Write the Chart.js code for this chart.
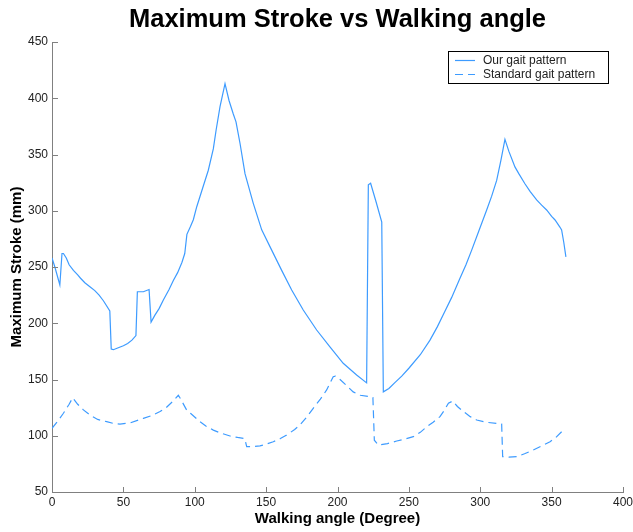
<!DOCTYPE html>
<html lang="en">
<head>
  <meta charset="UTF-8">
  <title>Maximum Stroke vs Walking angle</title>
  <style>
    body { margin: 0; background: #fff; }
    #wrap { width: 633px; height: 532px; }
  </style>
</head>
<body>
  <div id="wrap"><canvas id="grafico" width="633" height="532"></canvas></div>
  <script src="https://cdn.jsdelivr.net/npm/chart.js"></script>
  <script>
    // data
    const ourAngle = [0, 2, 5.5, 7, 8, 10, 12, 15, 18, 20, 23, 27, 30, 33, 36, 40.5, 41.5, 43, 46, 50, 53, 56, 58.8,
      59.8, 64, 68, 69.4, 72, 75, 78, 82, 85, 88, 91, 93, 94.5, 97, 99, 101.4, 105, 109.5, 113, 115, 117.7,
      121.2, 124, 127, 128.9, 131.7, 135.2, 141, 146.9, 153.9, 160.9, 167.9, 176, 185.4, 194.7, 204, 213.4, 220.4,
      221.6, 223.2, 227, 231, 232.1, 236, 240, 245, 250, 258, 264.8, 270, 275, 280, 285.8, 290, 294, 299, 304.5,
      308, 311.5, 314.5, 317.3, 320, 324.3, 327, 331.3, 335, 339.5, 343, 346.5, 350, 352.4, 355.9, 357, 358.5, 360];
    const ourStroke = [258, 250, 234, 262, 262, 258, 252, 247, 243, 240, 236, 232, 229, 225, 220, 211, 177, 176.5, 178, 180, 182, 185, 189,
      228, 228, 230, 201, 207, 213, 220.7, 230, 238, 245, 254, 262, 279, 286, 292, 303.6, 318, 336, 355, 372, 392.5,
      413, 398, 386, 379, 360, 333, 306.6, 283, 265, 247, 229.6, 211.8, 194, 179, 164.4, 154, 147,
      323, 324.4, 308, 290, 139, 142, 147, 153, 160, 172, 185, 197, 210, 223, 240, 252, 265, 282, 300.7,
      313, 327, 345, 363.5, 353, 339, 333, 324, 317, 309.6, 305, 300.7, 295, 291.8, 285.3, 283, 272, 259];

    const stdAngle = [0, 4, 8, 12, 14.5, 18, 22, 26.6, 32, 38.3, 43, 47.6, 55, 64, 70, 75.7, 80, 85, 88.5, 90, 94.3, 97,
      103.7, 108, 113, 118, 124.7, 130, 135, 136.4, 140, 145.7, 150, 155, 160, 164.4, 170, 173.7, 178, 183, 188,
      192.4, 197, 198.5, 201.8, 206, 211, 216, 222.8, 224.8, 225.8, 228.6, 235, 241.5, 247, 253.1, 258, 262.5, 267,
      271.8, 275, 277.7, 280.7, 284, 288.1, 293, 297.5, 304, 311.5, 315, 315.7, 320, 325.5, 331, 337, 343, 348.9,
      353, 357, 360];
    const stdStroke = [106.6, 113, 120, 128, 133.8, 128, 123, 118.4, 114.5, 112.5, 111, 110.4, 111.5, 115.5, 118, 121.6, 125, 131, 136, 133, 122.9, 120,
      112.5, 108.5, 105, 102.5, 99.8, 98.5, 97.5, 90.3, 90.3, 91, 92.5, 94.7, 97.5, 100.7, 105.5, 109.6, 116, 124.4, 132.5,
      140.7, 152.5, 153, 150, 145, 139, 136, 134.7, 134, 96, 91.8, 93, 95.3, 97, 99.2, 103, 108, 112,
      117, 123, 129, 130.8, 126, 121.6, 117, 114, 112, 111, 110.4, 81.4, 81, 81.4, 84, 87.3, 91, 94.7,
      98.5, 103.6, 104];

    const seriesNames = ['Our gait pattern', 'Standard gait pattern'];
    const titulo = 'Maximum Stroke vs Walking angle';
    const xTicks = [0, 50, 100, 150, 200, 250, 300, 350, 400];
    const yTicks = [50, 100, 150, 200, 250, 300, 350, 400, 450];

    const fonte = "'Liberation Sans', Arial, Helvetica, sans-serif";
    const azul = '#3d9bff';
    const cinza = '#808080';

    function pontos(xs, ys) { return xs.map((x, i) => ({ x: x, y: ys[i] })); }

    // titulo centrado sobre a area do grafico (como no matlab)
    const tituloCentrado = {
      id: 'tituloCentrado',
      afterDraw(chart) {
        const { ctx, chartArea } = chart;
        ctx.save();
        ctx.font = 'bold 25.5px ' + fonte;
        ctx.fillStyle = '#000';
        ctx.textAlign = 'center';
        ctx.textBaseline = 'alphabetic';
        ctx.fillText(titulo, (chartArea.left + chartArea.right) / 2, 27);
        ctx.restore();
      }
    };

    // tiques para dentro, estilo matlab
    const tiques = {
      id: 'tiques',
      afterDraw(chart) {
        const { ctx, chartArea, scales } = chart;
        ctx.save();
        ctx.strokeStyle = cinza;
        ctx.lineWidth = 1;
        ctx.beginPath();
        xTicks.forEach(v => {
          const px = Math.round(scales.x.getPixelForValue(v)) + 0.5;
          ctx.moveTo(px, chartArea.bottom);
          ctx.lineTo(px, chartArea.bottom - 5);
        });
        yTicks.forEach(v => {
          const py = Math.round(scales.y.getPixelForValue(v)) + 0.5;
          ctx.moveTo(chartArea.left, py);
          ctx.lineTo(chartArea.left + 6, py);
        });
        ctx.stroke();
        ctx.restore();
      }
    };

    // legenda com caixa dentro do grafico
    const legendaCaixa = {
      id: 'legendaCaixa',
      afterDraw(chart) {
        const { ctx, chartArea } = chart;
        const w = 160, h = 32;
        const x0 = chartArea.right - 15 - w, y0 = chartArea.top + 9;
        ctx.save();
        ctx.fillStyle = '#fff';
        ctx.fillRect(x0, y0, w, h);
        ctx.strokeStyle = '#000';
        ctx.lineWidth = 1;
        ctx.strokeRect(Math.round(x0) + 0.5, Math.round(y0) + 0.5, w, h);
        ctx.font = '12px ' + fonte;
        ctx.textBaseline = 'middle';
        ctx.textAlign = 'left';
        chart.data.datasets.forEach((ds, i) => {
          const yy = y0 + 9.5 + i * 14;
          ctx.strokeStyle = ds.borderColor;
          ctx.lineWidth = 1.2;
          ctx.setLineDash(ds.borderDash || []);
          ctx.beginPath();
          ctx.moveTo(x0 + 7, yy);
          ctx.lineTo(x0 + 27, yy);
          ctx.stroke();
          ctx.setLineDash([]);
          ctx.fillStyle = '#222';
          ctx.fillText(ds.label, x0 + 35, yy);
        });
        ctx.restore();
      }
    };

    new Chart(document.getElementById('grafico'), {
      type: 'line',
      data: {
        datasets: [
          { label: seriesNames[0], data: pontos(ourAngle, ourStroke), borderColor: azul, borderWidth: 1.2, pointRadius: 0, tension: 0, fill: false },
          { label: seriesNames[1], data: pontos(stdAngle, stdStroke), borderColor: azul, borderWidth: 1.2, borderDash: [8, 5], pointRadius: 0, tension: 0, fill: false }
        ]
      },
      options: {
        responsive: false,
        animation: false,
        layout: { padding: { left: 0, right: 10, top: 42, bottom: 0 } },
        plugins: {
          legend: { display: false },
          tooltip: { enabled: false },
          title: { display: false }
        },
        scales: {
          x: {
            type: 'linear', min: 0, max: 400,
            afterBuildTicks: s => { s.ticks = xTicks.map(v => ({ value: v })); },
            afterFit: s => { s.height = 40; s.paddingRight = 0; s.paddingLeft = 0; },
            grid: { display: false, drawTicks: false },
            border: { display: true, color: cinza, width: 1 },
            ticks: { color: '#222', padding: 3, maxRotation: 0, font: { family: fonte, size: 12 } },
            title: { display: true, text: 'Walking angle (Degree)', color: '#000', font: { family: fonte, size: 15, weight: 'bold' }, padding: { top: 0, bottom: 4 } }
          },
          y: {
            type: 'linear', min: 50, max: 450,
            afterBuildTicks: s => { s.ticks = yTicks.map(v => ({ value: v })); },
            afterFit: s => { s.width = 52; s.paddingTop = 0; s.paddingBottom = 0; },
            grid: { display: false, drawTicks: false },
            border: { display: true, color: cinza, width: 1 },
            ticks: { color: '#222', padding: 4, font: { family: fonte, size: 12 } },
            title: { display: true, text: 'Maximum Stroke (mm)', color: '#000', font: { family: fonte, size: 15, weight: 'bold' }, padding: { top: 7.5, bottom: 0 } }
          }
        }
      },
      plugins: [tiques, legendaCaixa, tituloCentrado]
    });
  </script>
</body>
</html>
